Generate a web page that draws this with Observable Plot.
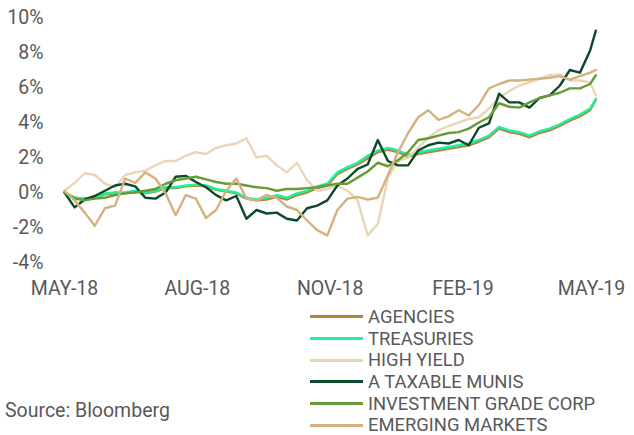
<!DOCTYPE html>
<html>
<head>
<meta charset="utf-8">
<script src="https://cdn.jsdelivr.net/npm/d3@7"></script>
<script src="https://cdn.jsdelivr.net/npm/@observablehq/plot@0.6"></script>
<style>
  html, body { margin: 0; padding: 0; background: #fff; }
  body { width: 634px; height: 435px; position: relative; font-family: Roboto, sans-serif; color: #595959; }
  #chart { position: absolute; left: 0; top: 0; }
  #legend { position: absolute; left: 310px; top: 306px; font-size: 18.4px; line-height: 21.7px; }
  #legend .row { display: flex; align-items: center; white-space: nowrap; height: 21.7px; }
  #legend .row span { line-height: 21.7px; }
  #legend .sw { width: 53px; height: 3px; margin-right: 5px; }
  #source { position: absolute; left: 5px; top: 399px; font-size: 19.5px; }
</style>
</head>
<body>
<div id="chart"></div>
<div id="legend"></div>
<div id="source">Source: Bloomberg</div>
<script>
// Weekly observation dates (start date + week index), final point early May 2019
const startDate = "2018-05-01";
const endDate = "2019-05-04";

const seriesNames = ["AGENCIES", "TREASURIES", "HIGH YIELD", "A TAXABLE MUNIS", "INVESTMENT GRADE CORP", "EMERGING MARKETS"];
const seriesColors = ["#b5853f", "#1ef09e", "#e9d6b6", "#0b4a2a", "#6a9a35", "#d2b27e"];

const agencies = [0.0, -0.3, -0.35, -0.3, -0.1, -0.05, -0.05, 0.05, -0.05, 0.05, 0.25, 0.25, 0.35, 0.4, 0.35, 0.15, 0.05, -0.05, -0.35, -0.45, -0.4, -0.25, -0.4, -0.15, 0.0, 0.25, 0.4, 1.05, 1.35, 1.6, 1.95, 2.3, 2.45, 2.3, 2.05, 2.2, 2.3, 2.4, 2.5, 2.6, 2.7, 2.9, 3.15, 3.65, 3.45, 3.35, 3.15, 3.4, 3.55, 3.8, 4.1, 4.35, 4.7, 5.3];
const treasuries = [0.0, -0.3, -0.35, -0.3, -0.05, 0.0, 0.0, 0.1, 0.0, 0.1, 0.3, 0.3, 0.4, 0.45, 0.4, 0.2, 0.1, 0.0, -0.3, -0.4, -0.3, -0.15, -0.3, -0.05, 0.1, 0.35, 0.5, 1.15, 1.45, 1.7, 2.1, 2.4, 2.55, 2.4, 2.15, 2.3, 2.4, 2.5, 2.6, 2.7, 2.8, 3.0, 3.25, 3.75, 3.55, 3.45, 3.25, 3.5, 3.65, 3.9, 4.2, 4.45, 4.8, 5.35];
const highYield = [0.1, 0.55, 1.1, 1.0, 0.5, 0.3, 1.0, 1.15, 1.25, 1.55, 1.8, 1.8, 2.1, 2.3, 2.2, 2.55, 2.7, 2.8, 3.1, 2.0, 2.1, 1.55, 1.15, 1.7, 0.7, 0.1, 0.2, 0.4, 0.1, -0.45, -2.45, -1.8, 0.85, 1.8, 2.0, 2.55, 3.15, 3.55, 3.8, 4.0, 4.2, 4.3, 4.8, 5.4, 5.8, 6.1, 6.3, 6.5, 6.7, 6.75, 6.4, 6.4, 6.3, 5.55];
const taxableMunis = [0.0, -0.85, -0.4, -0.2, 0.1, 0.4, 0.5, 0.35, -0.3, -0.35, 0.0, 0.9, 0.95, 0.6, 0.3, -0.15, -0.45, -0.2, -1.5, -1.0, -1.2, -1.15, -1.5, -1.6, -0.9, -0.75, -0.45, 0.4, 0.8, 1.35, 1.6, 3.0, 1.8, 1.55, 1.55, 2.4, 2.7, 2.85, 2.8, 3.0, 2.7, 3.7, 3.95, 5.65, 5.15, 5.15, 4.85, 5.4, 5.55, 6.1, 7.0, 6.85, 8.1, 9.25];
const igCorp = [0.0, -0.35, -0.45, -0.35, -0.3, -0.15, -0.05, 0.0, 0.1, 0.2, 0.5, 0.7, 0.8, 0.9, 0.75, 0.6, 0.5, 0.5, 0.4, 0.3, 0.25, 0.1, 0.2, 0.2, 0.25, 0.3, 0.4, 0.5, 0.5, 0.85, 1.2, 1.7, 1.5, 1.85, 2.3, 3.0, 3.1, 3.25, 3.4, 3.45, 3.65, 4.0, 4.3, 5.1, 4.9, 4.85, 5.15, 5.4, 5.55, 5.7, 5.95, 5.95, 6.2, 6.7];
const emergingMarkets = [0.1, -0.45, -1.15, -1.9, -0.9, -0.75, 0.8, 0.55, 1.15, 0.8, -0.05, -1.3, -0.15, -0.35, -1.45, -1.0, 0.1, 0.8, -0.35, -0.45, -0.15, -0.3, -0.8, -1.0, -1.6, -2.15, -2.45, -1.0, -0.35, -0.25, -0.4, -0.3, 1.0, 2.3, 3.4, 4.3, 4.7, 4.15, 4.35, 4.7, 4.4, 5.0, 5.95, 6.2, 6.4, 6.4, 6.45, 6.5, 6.55, 6.65, 6.45, 6.65, 6.85, 7.0];

const xTickDates = ["2018-05-01", "2018-08-01", "2018-11-01", "2019-02-01", "2019-05-01"];
const xTickLabels = ["MAY-18", "AUG-18", "NOV-18", "FEB-19", "MAY-19"];
const yTicks = [-4, -2, 0, 2, 4, 6, 8, 10];

const allSeries = [agencies, treasuries, highYield, taxableMunis, igCorp, emergingMarkets];

function dateAt(i, n) {
  if (i === n - 1) return new Date(endDate);
  return d3.utcDay.offset(new Date(startDate), 7 * i);
}

const rows = [];
allSeries.forEach((vals, s) => {
  vals.forEach((v, i) => rows.push({series: seriesNames[s], date: dateAt(i, vals.length), value: v}));
});

const tickDates = xTickDates.map(d => new Date(d));
const labelOf = new Map(tickDates.map((d, i) => [+d, xTickLabels[i]]));

const chart = Plot.plot({
  width: 634,
  height: 300,
  marginLeft: 64,
  marginRight: 43,
  marginTop: 17,
  marginBottom: 38,
  style: {fontFamily: "Roboto, sans-serif", fontSize: "19.5px", color: "#595959", background: "#fff"},
  x: {type: "utc", domain: [new Date(xTickDates[0]), new Date(xTickDates[4])], ticks: tickDates, tickFormat: d => labelOf.get(+d), tickSize: 0, tickPadding: 19, label: null},
  y: {domain: [-4, 10], ticks: yTicks, tickFormat: d => d + "%", tickSize: 0, tickPadding: 21, label: null},
  color: {domain: seriesNames, range: seriesColors},
  marks: [
    Plot.line(rows, {x: "date", y: "value", z: "series", stroke: "series", strokeWidth: 2.4, strokeLinejoin: "round"})
  ]
});
document.getElementById("chart").appendChild(chart);

const legend = document.getElementById("legend");
seriesNames.forEach((name, i) => {
  const row = document.createElement("div");
  row.className = "row";
  const sw = document.createElement("span");
  sw.className = "sw";
  sw.style.background = seriesColors[i];
  const t = document.createElement("span");
  t.textContent = name;
  row.appendChild(sw);
  row.appendChild(t);
  legend.appendChild(row);
});
</script>
</body>
</html>
